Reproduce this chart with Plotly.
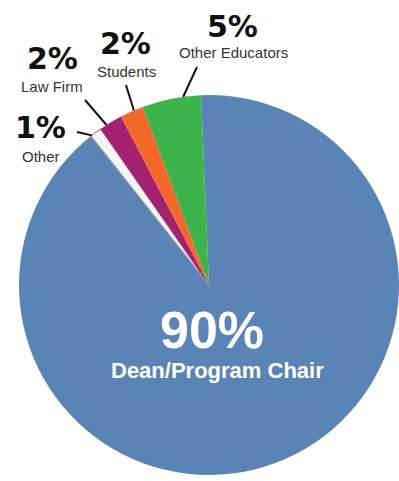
import math
import plotly.graph_objects as go

# ---- data ----
categories = ["Dean/Program Chair", "Other", "Law Firm", "Students", "Other Educators"]
values = [90, 1, 2, 2, 5]
pct_labels = ["90%", "1%", "2%", "2%", "5%"]

# ---- style / layout ----
colors = ["#5b84b6", "#f4f4f4", "#a3216f", "#f5682a", "#3cb44b"]
line_colors = ["rgba(0,0,0,0)", "#9a9a9a", "rgba(0,0,0,0)", "rgba(0,0,0,0)", "rgba(0,0,0,0)"]
line_widths = [0, 1.2, 0, 0, 0]

W, H = 399, 481
CX, CY, R = 209, 285, 190          # pie centre / radius in pixels
ROT = -2.4                          # start angle of first slice (deg, clockwise from 12 o'clock)

# label placement (pixels): percent text, name text, leader tail, position of leader head inside slice
pct_pos = {1: (40, 127), 2: (52, 58), 3: (125, 43), 4: (232, 26)}
name_pos = {1: (41, 156), 2: (52, 86), 3: (126, 71), 4: (233, 52)}
tail_pos = {1: (77, 132), 2: (85, 100), 3: (126, 85), 4: (197, 67)}
head_frac = {1: 0.1, 2: 0.3, 3: 0.6, 4: 0.7}


def px(x, y):
    return x / W, 1 - y / H


def label(x, y, text, family, size, color, height=None):
    xp, yp = px(x, y)
    d = dict(x=xp, y=yp, xref="paper", yref="paper", text=text, showarrow=False,
             xanchor="center", yanchor="middle",
             font=dict(family=family, size=size, color=color))
    if height:
        d["height"] = height
    return d


fig = go.Figure(go.Pie(
    labels=categories, values=values, sort=False, direction="clockwise", rotation=ROT,
    marker=dict(colors=colors, line=dict(color=line_colors, width=line_widths)),
    textinfo="none", hoverinfo="label+percent", showlegend=False,
    domain=dict(x=[(CX - R) / W, (CX + R) / W], y=[1 - (CY + R) / H, 1 - (CY - R) / H]),
))

annotations = []
shapes = []

# big slice label
annotations.append(label(212, 330, "<b>" + pct_labels[0] + "</b>", "Liberation Sans", 52, "white"))
annotations.append(label(217, 370, "<b>" + categories[0] + "</b>", "Liberation Sans", 22, "white"))

total = sum(values)
cum = 0
for i, v in enumerate(values):
    a0 = ROT + cum / total * 360
    a1 = ROT + (cum + v) / total * 360
    cum += v
    if i == 0:
        continue
    th = math.radians(a0 + (a1 - a0) * head_frac[i])
    hx, hy = CX + R * math.sin(th), CY - R * math.cos(th)
    tx, ty = tail_pos[i]
    x0, y0 = px(tx, ty)
    x1, y1 = px(hx, hy)
    shapes.append(dict(type="line", xref="paper", yref="paper", x0=x0, y0=y0, x1=x1, y1=y1,
                       line=dict(color="#111111", width=2)))
    annotations.append(label(*pct_pos[i], "<b>" + pct_labels[i] + "</b>", "DejaVu Sans", 30, "#111111",
                             height=30))
    annotations.append(label(*name_pos[i], categories[i], "Liberation Sans", 15, "#333333", height=16))

fig.update_layout(
    width=W, height=H, margin=dict(l=0, r=0, t=0, b=0),
    paper_bgcolor="white", plot_bgcolor="white",
    annotations=annotations, shapes=shapes,
)

fig.write_html("out.html")
